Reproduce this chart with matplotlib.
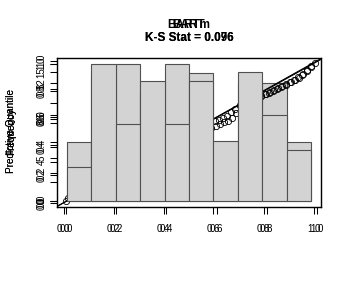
import numpy as np
import matplotlib
matplotlib.use("Agg")
import matplotlib.pyplot as plt

plt.rcParams['font.family'] = ['Liberation Sans', 'DejaVu Sans']

# histogram of predictive quantiles, 10 bins on [0, 1]
bin_edges = [0.0, 0.1, 0.2, 0.3, 0.4, 0.5, 0.6, 0.7, 0.8, 0.9, 1.0]
counts_bart = [6, 13, 14, 11, 14, 13, 5, 12, 12, 6]
counts_bartm = [4, 16, 9, 14, 9, 14, 7, 15, 10, 6]

# sorted predictive quantiles (qq plot against uniform)
q_bart = [0.014, 0.044, 0.074, 0.101, 0.115, 0.129, 0.142, 0.156, 0.170, 0.183,
          0.197, 0.210, 0.222, 0.235, 0.248, 0.260, 0.273, 0.286, 0.298, 0.313,
          0.330, 0.345, 0.362, 0.378, 0.393, 0.408, 0.420, 0.433, 0.445, 0.458,
          0.470, 0.483, 0.496, 0.509, 0.523, 0.537, 0.550, 0.563, 0.577, 0.590,
          0.611, 0.647, 0.681, 0.707, 0.722, 0.736, 0.751, 0.766, 0.780, 0.796,
          0.811, 0.825, 0.840, 0.855, 0.869, 0.884, 0.899, 0.926, 0.956, 0.986]
q_bartm = [0.021, 0.066, 0.103, 0.113, 0.124, 0.135, 0.145, 0.156, 0.168, 0.178,
           0.189, 0.200, 0.218, 0.238, 0.257, 0.276, 0.295, 0.310, 0.322, 0.334,
           0.347, 0.359, 0.372, 0.384, 0.396, 0.414, 0.433, 0.452, 0.471, 0.491,
           0.506, 0.519, 0.531, 0.543, 0.556, 0.569, 0.580, 0.593, 0.610, 0.634,
           0.660, 0.685, 0.704, 0.716, 0.728, 0.739, 0.751, 0.762, 0.774, 0.785,
           0.797, 0.813, 0.830, 0.848, 0.865, 0.882, 0.900, 0.928, 0.957, 0.986]

titles = ["BART\nK-S Stat = 0.076", "BARTm\nK-S Stat = 0.096"]
qq_ticks = [0.0, 0.2, 0.4, 0.6, 0.8, 1.0]

fig = plt.figure(figsize=(3.51, 2.81), dpi=100)
pos = [57 / 351, (281 - 207) / 281, 264 / 351, 149 / 281]

ax_h1 = fig.add_axes(pos)
ax_q1 = fig.add_axes(pos)
ax_q2 = fig.add_axes(pos)
ax_h2 = fig.add_axes(pos)

for ax in [ax_q1, ax_q2, ax_h2]:
    ax.patch.set_visible(False)

for ax in [ax_h1, ax_q1, ax_q2, ax_h2]:
    for s in ax.spines.values():
        s.set_linewidth(0.8)
    ax.tick_params(direction='out', length=5, width=0.75, labelsize=7, pad=2.5)
    ax.tick_params(axis='y', labelrotation=90)

def draw_hist(ax, counts, yticks, shown):
    m = max(counts)
    ax.bar(bin_edges[:-1], counts, width=0.1, align='edge', color='#d3d3d3',
           edgecolor='#505050', linewidth=0.8)
    ax.set_xlim(-0.04, 1.04)
    ax.set_ylim(-0.04 * m, 1.04 * m)
    ax.set_yticks(yticks)
    # like R, labels that would collide are dropped
    ax.set_yticklabels([str(t) if t in shown else "" for t in yticks])
    ax.tick_params(axis='x', bottom=False, labelbottom=False)
    for t in ax.get_yticklabels():
        t.set_va('center')

def draw_qq(ax, q, xlim, ylim, title):
    n = len(q)
    theo = (np.arange(n) + 0.5) / n
    ax.axline((0, 0), slope=1, color='black', lw=0.8)
    ax.plot(theo, q, 'o', mfc='none', mec='black', ms=4.5, mew=0.6)
    ax.set_xlim(*xlim)
    ax.set_ylim(*ylim)
    ax.set_xticks(qq_ticks)
    ax.set_yticks(qq_ticks)
    ax.tick_params(axis='x', pad=7)
    for t in ax.get_yticklabels():
        t.set_va('center')
    ax.set_title(title, fontsize=8.5, fontweight='bold', pad=12)

draw_hist(ax_h1, counts_bart, [0, 2, 4, 6, 8, 10, 12, 14], [0, 4, 8, 12])
draw_qq(ax_q1, q_bart, (-0.026, 1.03), (-0.03, 1.04), titles[0])
draw_qq(ax_q2, q_bartm, (-0.036, 1.016), (-0.04, 1.02), titles[1])
draw_hist(ax_h2, counts_bartm, [0, 5, 10, 15], [0, 5, 10, 15])

for lab in ["Predictive Quantile", "Predictive Quantile", "Frequency", "Frequency"]:
    fig.text(11 / 351, (281 - 131) / 281, lab, rotation=90, ha='center',
             va='center', fontsize=7.2)

fig.savefig("out.png", dpi=100, facecolor='white')
